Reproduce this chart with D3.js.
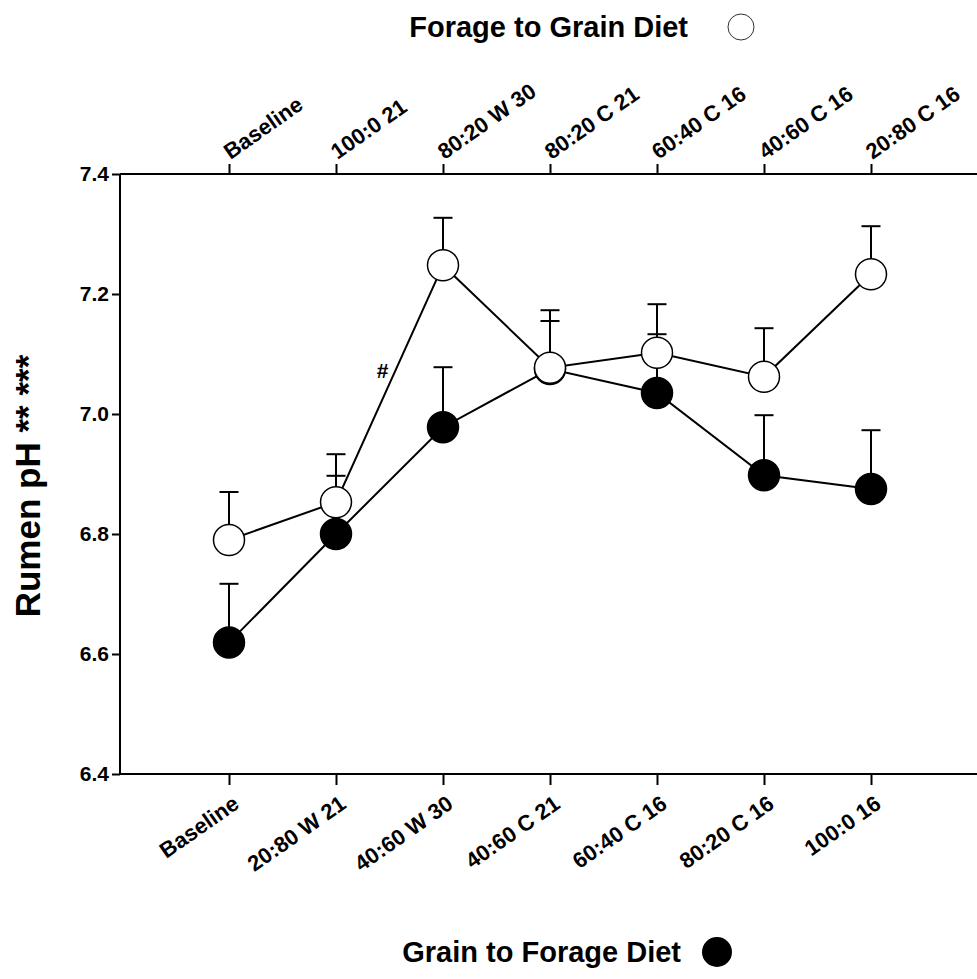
<!DOCTYPE html>
<html>
<head>
<script src="https://cdn.jsdelivr.net/npm/d3@7"></script>
<style>
  body { margin: 0; background: #fff; }
  svg { font-family: "Liberation Sans", Arial, sans-serif; }
</style>
</head>
<body>
<svg id="chart" width="977" height="979"></svg>
<script>
// categories (bottom axis = grain to forage, top axis = forage to grain)
var bottomCats = ["Baseline", "20:80 W 21", "40:60 W 30", "40:60 C 21", "60:40 C 16", "80:20 C 16", "100:0 16"];
var topCats = ["Baseline", "100:0 21", "80:20 W 30", "80:20 C 21", "60:40 C 16", "40:60 C 16", "20:80 C 16"];

// forage to grain (open circles)
var openMean = [6.79, 6.853, 7.248, 7.077, 7.102, 7.062, 7.233];
var openSE = [0.08, 0.08, 0.079, 0.096, 0.081, 0.081, 0.08];

// grain to forage (filled circles)
var fillMean = [6.619, 6.8, 6.978, 7.075, 7.035, 6.898, 6.875];
var fillSE = [0.098, 0.097, 0.1, 0.08, 0.098, 0.1, 0.098];

var yTicks = [6.4, 6.6, 6.8, 7.0, 7.2, 7.4];

var svg = d3.select("#chart");
var plotL = 120, plotR = 977, plotT = 174, plotB = 774;
var font = "Liberation Sans, Arial, sans-serif";

var x = d3.scaleLinear().domain([0, 6]).range([229, 871]);
var y = d3.scaleLinear().domain([6.4, 7.4]).range([plotB, plotT]);

// frame lines (no right border)
svg.append("line").attr("x1", plotL).attr("x2", plotR).attr("y1", plotT).attr("y2", plotT)
  .attr("stroke", "#000").attr("stroke-width", 2);
svg.append("line").attr("x1", plotL).attr("x2", plotR).attr("y1", plotB).attr("y2", plotB)
  .attr("stroke", "#000").attr("stroke-width", 2);

// y axis
var yAxis = svg.append("g").attr("transform", "translate(" + plotL + ",0)")
  .call(d3.axisLeft(y).tickValues(yTicks).tickFormat(d3.format(".1f")).tickSize(8).tickPadding(3));
yAxis.attr("font-size", 21).attr("font-family", font).attr("font-weight", "bold");
yAxis.select(".domain").attr("stroke-width", 2).attr("d", "M0," + plotT + "V" + plotB);
yAxis.selectAll(".tick line").attr("stroke-width", 2);
yAxis.selectAll("text").attr("fill", "#000");

// bottom axis ticks + labels
var bAxis = svg.append("g").attr("transform", "translate(0," + plotB + ")")
  .call(d3.axisBottom(x).tickValues(d3.range(7)).tickSize(11).tickFormat(function(i){ return bottomCats[i]; }));
bAxis.attr("font-size", 22).attr("font-family", font).attr("font-weight", "bold");
bAxis.select(".domain").remove();
bAxis.selectAll(".tick line").attr("stroke-width", 2);
bAxis.selectAll("text")
  .attr("fill", "#000")
  .attr("text-anchor", "end").attr("dy", null).attr("y", null)
  .attr("transform", "translate(11,33) rotate(-35)");

// top axis ticks + labels
var tAxis = svg.append("g").attr("transform", "translate(0," + plotT + ")")
  .call(d3.axisTop(x).tickValues(d3.range(7)).tickSize(10).tickFormat(function(i){ return topCats[i]; }));
tAxis.attr("font-size", 22).attr("font-family", font).attr("font-weight", "bold");
tAxis.select(".domain").remove();
tAxis.selectAll(".tick line").attr("stroke-width", 2);
tAxis.selectAll("text")
  .attr("fill", "#000")
  .attr("text-anchor", "start").attr("dy", null).attr("y", null)
  .attr("transform", "translate(1,-14) rotate(-35)");

// y label
svg.append("text").attr("transform", "translate(40,486) rotate(-90)")
  .attr("text-anchor", "middle").attr("font-weight", "bold").attr("font-size", 35)
  .text("Rumen pH ** ***");

function drawSeries(mean, se, fill) {
  var g = svg.append("g");
  var line = d3.line().x(function(d, i){ return x(i); }).y(function(d){ return y(d); });
  g.append("path").datum(mean).attr("d", line).attr("fill", "none")
    .attr("stroke", "#000").attr("stroke-width", 2);
  var eb = g.selectAll(".eb").data(mean).enter().append("g");
  eb.append("line")
    .attr("x1", function(d, i){ return x(i); }).attr("x2", function(d, i){ return x(i); })
    .attr("y1", function(d){ return y(d); }).attr("y2", function(d, i){ return y(d + se[i]); })
    .attr("stroke", "#000").attr("stroke-width", 2);
  eb.append("line")
    .attr("x1", function(d, i){ return x(i) - 9.5; }).attr("x2", function(d, i){ return x(i) + 9.5; })
    .attr("y1", function(d, i){ return y(d + se[i]); }).attr("y2", function(d, i){ return y(d + se[i]); })
    .attr("stroke", "#000").attr("stroke-width", 2);
  g.selectAll("circle").data(mean).enter().append("circle")
    .attr("cx", function(d, i){ return x(i); }).attr("cy", function(d){ return y(d); })
    .attr("r", 15.5).attr("fill", fill).attr("stroke", "#000").attr("stroke-width", 1.5);
}

drawSeries(fillMean, fillSE, "#000");
drawSeries(openMean, openSE, "#fff");

// significance mark
svg.append("text").attr("x", x(1.435)).attr("y", y(7.06))
  .attr("text-anchor", "middle").attr("font-size", 21).attr("font-weight", "bold").text("#");

// legends
svg.append("text").attr("x", 688).attr("y", 37).attr("text-anchor", "end")
  .attr("font-size", 29).attr("font-weight", "bold").text("Forage to Grain Diet");
svg.append("circle").attr("cx", 741).attr("cy", 27).attr("r", 13)
  .attr("fill", "#fff").attr("stroke", "#333").attr("stroke-width", 1);

svg.append("text").attr("x", 681).attr("y", 962).attr("text-anchor", "end")
  .attr("font-size", 29).attr("font-weight", "bold").text("Grain to Forage Diet");
svg.append("circle").attr("cx", 717).attr("cy", 952).attr("r", 15).attr("fill", "#000");
</script>
</body>
</html>
